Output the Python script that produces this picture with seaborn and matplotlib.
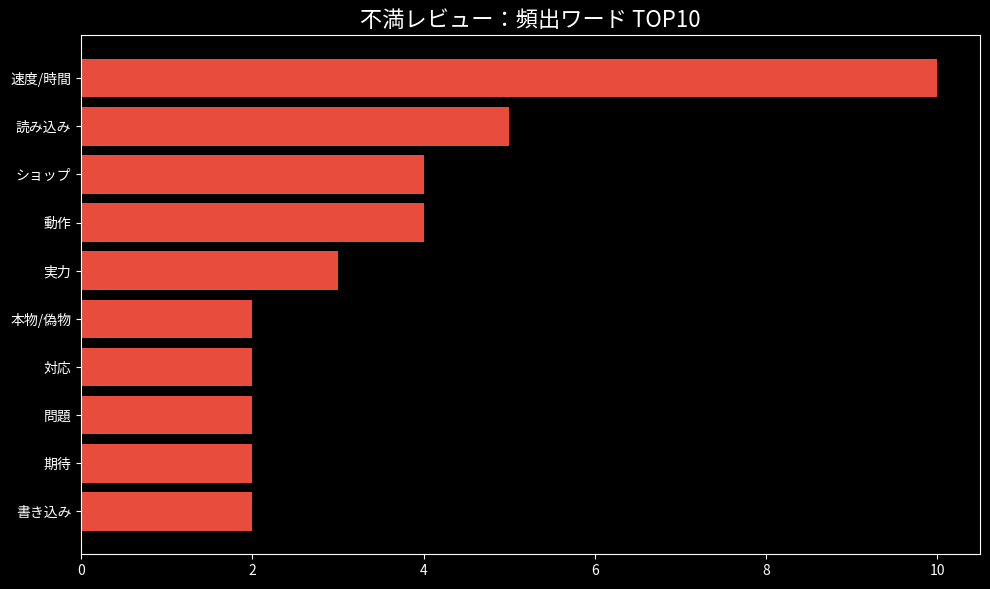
import pandas as pd
import matplotlib.pyplot as plt
import seaborn as sns

words = ['速度/時間', '読み込み', 'ショップ', '動作', '実力', '本物/偽物', '対応', '問題', '期待', '書き込み']
counts = [10, 5, 4, 4, 3, 2, 2, 2, 2, 2]

df = pd.DataFrame({'word': words, 'count': counts})

plt.style.use('dark_background')
plt.rcParams['font.family'] = ['Noto Sans CJK JP', 'DejaVu Sans']

fig, ax = plt.subplots(figsize=(9.9, 5.89), dpi=100)
sns.barplot(data=df, x='count', y='word', color='#e74c3c', saturation=1, width=0.8, ax=ax)
ax.set_title('不満レビュー：頻出ワード TOP10', fontsize=16)
ax.set_xlabel('')
ax.set_ylabel('')
ax.set_xlim(0, 10.5)
ax.set_ylim(9.89, -0.89)
fig.subplots_adjust(left=0.082, right=0.99, top=0.94, bottom=0.059)
plt.savefig('out.png', dpi=100)
plt.close()
